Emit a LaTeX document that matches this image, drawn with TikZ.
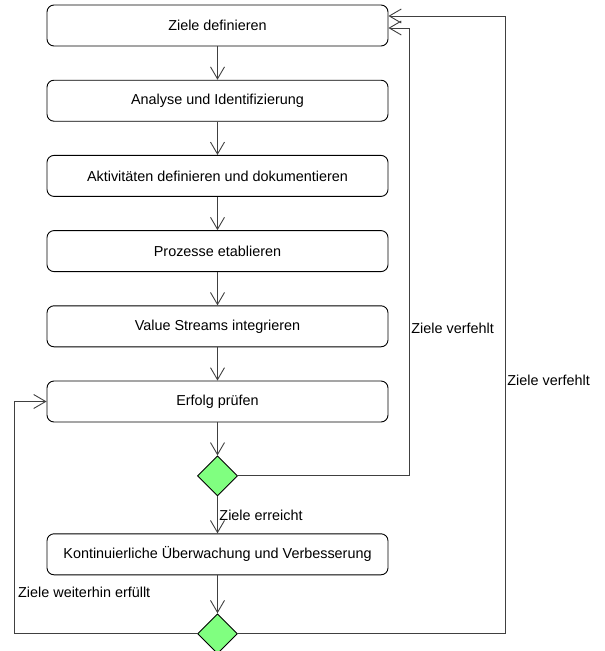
\documentclass[tikz,border=0pt]{standalone}
\usepackage{fontspec}
\setmainfont{Liberation Sans}
\usetikzlibrary{arrows.meta, positioning, shapes.geometric, calc}

\begin{document}
\begin{tikzpicture}[
    node distance=33.3pt,
    block/.style={rectangle, draw, line width=0.9pt, rounded corners=7pt, minimum width=341pt, minimum height=41pt, align=center, font=\fontsize{14.4}{16}\selectfont},
    decis/.style={diamond, draw, line width=0.9pt, fill={rgb,255:red,128;green,255;blue,128}, minimum width=40pt, minimum height=40pt, inner sep=0pt},
    arrow/.style={-{Straight Barb[length=12pt, width=14pt, line width=0.9pt]}, line width=0.9pt, draw=black!75},
    lbl/.style={font=\fontsize{14.4}{16}\selectfont, inner sep=1.5pt}
]
\useasboundingbox (0,0) rectangle (605pt,-651pt);

% --- Hauptkette ---
\node[block] (ziele) at (217.5pt,-25.5pt) {Ziele definieren};
\node[block, below=of ziele] (analyse) {Analyse und Identifizierung};
\node[block, below=of analyse] (aktiv) {Aktivitäten definieren und dokumentieren};
\node[block, below=of aktiv] (prozess) {Prozesse etablieren};
\node[block, below=of prozess] (stream) {Value Streams integrieren};
\node[block, below=of stream] (erfolg) {Erfolg prüfen};
\node[decis, below=33pt of erfolg] (check) {};
\node[block, below=37pt of check] (kont) {Kontinuierliche Überwachung und Verbesserung};
\node[decis, below=38pt of kont] (check2) {};

% === PFEILE ===
\draw[arrow] (ziele) -- (analyse);
\draw[arrow] (analyse) -- (aktiv);
\draw[arrow] (aktiv) -- (prozess);
\draw[arrow] (prozess) -- (stream);
\draw[arrow] (stream) -- (erfolg);
\draw[arrow] (erfolg) -- (check);
\draw[arrow] (check) -- node[lbl, right, pos=0.5] {Ziele erreicht} (kont);
\draw[arrow] (kont) -- (check2);

% Ziele verfehlt (innen)
\coordinate (innen) at ($(ziele.east)+(21pt,-2.5pt)$);
\draw[arrow] (check.east) -- (innen |- check.east) -- node[lbl, right, pos=0.33] {Ziele verfehlt} (innen) -- ([yshift=-2.5pt]ziele.east);

% Ziele verfehlt (aussen)
\coordinate (aussen) at ($(ziele.east)+(117pt,9.5pt)$);
\draw[arrow] (check2.east) -- (aussen |- check2.east) -- node[lbl, right, pos=0.41] {Ziele verfehlt} (aussen) -- ([yshift=9.5pt]ziele.east);

% Ziele weiterhin erfuellt
\coordinate (links) at (14pt,-25.5pt);
\draw[arrow] (check2.west) -- (links |- check2.west) |- (erfolg.west);
\node[lbl, anchor=west] (weiter) at (16.5pt,-592pt) {Ziele weiterhin erfüllt};

\end{tikzpicture}
\end{document}
